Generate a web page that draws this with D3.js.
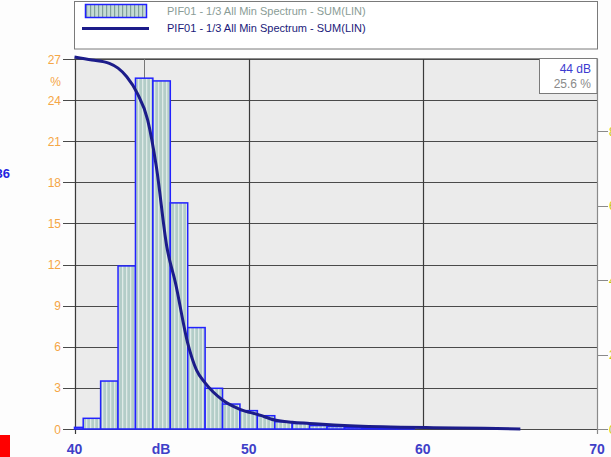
<!DOCTYPE html>
<html>
  <head>
    <meta charset="utf-8">
    <title>Spectrum</title>
    <script src="https://cdn.jsdelivr.net/npm/d3@7"></script>
    <style>
      body { margin: 0; background: #fdfdfd; }
      svg text { font-family: "Liberation Sans", Arial, sans-serif; }
    </style>
  </head>
  <body>
    <div id="chart"></div>
    <script>
      // histogram, 1 dB bins (centre values)
      var binCenters = [40, 41, 42, 43, 44, 45, 46, 47, 48, 49, 50, 51, 52, 53, 54, 55, 56, 57, 58, 59];
      var binValues = [0.12, 0.78, 3.5, 11.9, 25.6, 25.4, 16.5, 7.4, 2.97, 1.82, 1.34, 0.97, 0.53, 0.4, 0.25, 0.18, 0.12, 0.1, 0.07, 0.05];

      // cumulative line (right axis, %)
      var cumDb  = [40, 41, 42, 42.5, 43, 43.6, 44.2, 44.7, 45.3, 45.8, 46.5, 47, 47.5, 48.5, 49.5, 50.6, 51.5, 52.5, 53.5, 54.9, 57.7, 60.6, 63.5, 65.6];
      var cumPct = [100, 99.2, 98.3, 97, 94.7, 90.3, 83.1, 70.5, 49, 39.2, 23.1, 15.9, 12.4, 7.8, 5.3, 3.8, 2.4, 1.8, 1.5, 1.1, 0.6, 0.35, 0.2, 0];

      var leftTicks = [0, 3, 6, 9, 12, 15, 18, 21, 24, 27];
      var xTicks = [40, 50, 60, 70];
      var rightTicks = [0, 20, 40, 60, 80];
      var legendLabels = ['PIF01 - 1/3 All Min Spectrum - SUM(LIN)', 'PIF01 - 1/3 All Min Spectrum - SUM(LIN)'];
      var cursorDb = 44, cursorPct = '25.6 %';

      var width = 611, height = 457;
      var plotLeft = 74.5, plotRight = 597, plotTop = 58.5, plotBottom = 429;

      var x = d3.scaleLinear().domain([40, 70]).range([plotLeft, plotRight]);
      var y = d3.scaleLinear().domain([0, 27]).range([plotBottom, 59]);
      var yR = d3.scaleLinear().domain([0, 100]).range([plotBottom, 57]);

      var svg = d3.select('#chart').append('svg')
        .attr('width', width)
        .attr('height', height);

      var defs = svg.append('defs');
      var pat = defs.append('pattern')
        .attr('id', 'stripes')
        .attr('patternUnits', 'userSpaceOnUse')
        .attr('width', 4).attr('height', 4);
      pat.append('rect').attr('width', 4).attr('height', 4).attr('fill', '#b3cdc8');
      pat.append('rect').attr('x', 2).attr('width', 1.3).attr('height', 4).attr('fill', '#dfeae7');

      var patL = defs.append('pattern')
        .attr('id', 'stripesLegend')
        .attr('patternUnits', 'userSpaceOnUse')
        .attr('width', 4).attr('height', 4);
      patL.append('rect').attr('width', 4).attr('height', 4).attr('fill', '#c4dbd5');
      patL.append('rect').attr('x', 2).attr('width', 1.2).attr('height', 4).attr('fill', '#7f9f9a');

      // stray bits at left edge
      svg.append('rect').attr('x', 0).attr('y', 435).attr('width', 10).attr('height', 22).attr('fill', '#ff0000');
      svg.append('text').attr('x', 10).attr('y', 178)
        .attr('text-anchor', 'end').attr('font-size', 13).attr('font-weight', 'bold')
        .attr('fill', '#2424e0').text('36');

      // legend
      svg.append('rect').attr('x', 74.5).attr('y', 1.5).attr('width', 523).attr('height', 47.5)
        .attr('fill', '#ffffff').attr('stroke', '#7a7a7a');
      svg.append('rect').attr('x', 85.5).attr('y', 4.5).attr('width', 61).attr('height', 13)
        .attr('fill', 'url(#stripesLegend)').attr('stroke', '#2020ff').attr('stroke-width', 1.5);
      svg.append('line').attr('x1', 82).attr('x2', 149).attr('y1', 28.5).attr('y2', 28.5)
        .attr('stroke', '#1c1c8a').attr('stroke-width', 3);
      svg.append('text').attr('x', 167).attr('y', 14.5).attr('font-size', 11)
        .attr('fill', '#8a9c96').text(legendLabels[0]);
      svg.append('text').attr('x', 167).attr('y', 32).attr('font-size', 11)
        .attr('fill', '#1a1a7a').text(legendLabels[1]);

      // plot area
      svg.append('rect').attr('x', plotLeft).attr('y', plotTop)
        .attr('width', plotRight - plotLeft).attr('height', plotBottom - plotTop)
        .attr('fill', '#ebebeb');

      // horizontal grid + left ticks
      svg.append('g').selectAll('line').data(leftTicks).enter().append('line')
        .attr('x1', 63).attr('x2', plotRight)
        .attr('y1', function(d) { return Math.round(y(d)) + 0.5; })
        .attr('y2', function(d) { return Math.round(y(d)) + 0.5; })
        .attr('stroke', '#4a4a4a').attr('stroke-width', 1.2);

      svg.append('g').selectAll('text').data(leftTicks).enter().append('text')
        .attr('x', 61).attr('y', function(d) { return y(d) + 4.5; })
        .attr('text-anchor', 'end').attr('font-size', 12)
        .attr('fill', '#f5a646')
        .text(function(d) { return d; });
      svg.append('text').attr('x', 61).attr('y', 86).attr('text-anchor', 'end')
        .attr('font-size', 12).attr('fill', '#f5a646').text('%');

      // vertical grid
      svg.append('g').selectAll('line').data(xTicks).enter().append('line')
        .attr('x1', function(d) { return Math.round(x(d)) + 0.5; })
        .attr('x2', function(d) { return Math.round(x(d)) + 0.5; })
        .attr('y1', plotTop).attr('y2', function(d) { return (d === 40 || d === 70) ? plotBottom + 5 : plotBottom; })
        .attr('stroke', function(d) { return d === 70 ? '#8a8a8a' : '#3a3a3a'; })
        .attr('stroke-width', 1.2);

      // cursor
      svg.append('line')
        .attr('x1', Math.round(x(cursorDb)) + 0.5).attr('x2', Math.round(x(cursorDb)) + 0.5)
        .attr('y1', plotTop).attr('y2', plotBottom)
        .attr('stroke', '#777777').attr('stroke-width', 1);

      // right axis ticks (labels mostly clipped)
      svg.append('g').selectAll('line').data(rightTicks).enter().append('line')
        .attr('x1', plotRight).attr('x2', 608)
        .attr('y1', function(d) { return Math.round(yR(d)) + 0.5; })
        .attr('y2', function(d) { return Math.round(yR(d)) + 0.5; })
        .attr('stroke', '#8a8a8a');
      svg.append('g').selectAll('text').data(rightTicks).enter().append('text')
        .attr('x', 609).attr('y', function(d) { return yR(d) + 4.5; })
        .attr('font-size', 12).attr('fill', '#c8c800')
        .text(function(d) { return d; });

      // top border
      svg.append('line').attr('x1', plotLeft).attr('x2', plotRight).attr('y1', plotTop).attr('y2', plotTop)
        .attr('stroke', '#8a8a8a');

      // bars
      svg.append('g').selectAll('rect').data(binCenters).enter().append('rect')
        .attr('x', function(d) { return x(Math.max(40, d - 0.5)); })
        .attr('width', function(d) { return x(d + 0.5) - x(Math.max(40, d - 0.5)); })
        .attr('y', function(d, i) { return y(binValues[i]); })
        .attr('height', function(d, i) { return y(0) - y(binValues[i]); })
        .attr('fill', 'url(#stripes)')
        .attr('stroke', '#2222ff').attr('stroke-width', 1.5);

      // cumulative line
      var line = d3.line()
        .x(function(d, i) { return x(cumDb[i]); })
        .y(function(d) { return yR(d); })
        .curve(d3.curveMonotoneX);
      svg.append('path').datum(cumPct)
        .attr('d', line)
        .attr('fill', 'none')
        .attr('stroke', '#1c1c8a').attr('stroke-width', 3);

      // cursor box
      svg.append('rect').attr('x', 539.5).attr('y', plotTop).attr('width', plotRight - 539.5).attr('height', 35)
        .attr('fill', '#ffffff').attr('stroke', '#7a7a7a');
      svg.append('text').attr('x', 591).attr('y', 73).attr('text-anchor', 'end')
        .attr('font-size', 12).attr('fill', '#3b3bd0').text(cursorDb + ' dB');
      svg.append('text').attr('x', 591).attr('y', 88).attr('text-anchor', 'end')
        .attr('font-size', 12).attr('fill', '#8a8a8a').text(cursorPct);

      // x labels
      svg.append('g').selectAll('text').data(xTicks).enter().append('text')
        .attr('x', function(d) { return x(d); }).attr('y', 454)
        .attr('text-anchor', 'middle').attr('font-size', 14).attr('font-weight', 'bold')
        .attr('fill', '#3f3fc8')
        .text(function(d) { return d; });
      svg.append('text').attr('x', 161).attr('y', 454).attr('text-anchor', 'middle')
        .attr('font-size', 14).attr('font-weight', 'bold').attr('fill', '#3f3fc8').text('dB');
    </script>
  </body>
</html>
